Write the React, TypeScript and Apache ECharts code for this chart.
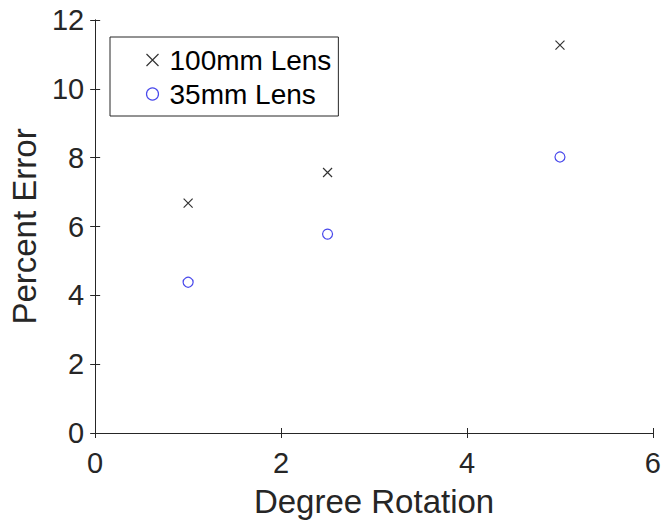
import React, { useEffect, useRef } from "react";
import * as echarts from "echarts";

const xTicks = [0, 2, 4, 6];
const yTicks = [0, 2, 4, 6, 8, 10, 12];
const rotation = [1, 2.5, 5];
const lens100 = [6.68, 7.57, 11.27];
const lens35 = [4.38, 5.78, 8.02];
const seriesNames = ["100mm Lens", "35mm Lens"];

const FONT = "Liberation Sans, Arial, Helvetica, sans-serif";
const INK = "#262626";
const CROSS = "path://M0,0L10,10M10,0L0,10";
const BLUE = "#1a1ae6";

export default function App() {
  const ref = useRef<HTMLDivElement>(null);
  useEffect(() => {
    if (!ref.current) return;
    const chart = echarts.init(ref.current, undefined, { renderer: "svg" });
    const axisCommon = {
      type: "value" as const,
      splitLine: { show: false },
      axisLine: { show: true, lineStyle: { color: INK, width: 1 } },
      axisTick: { show: true, inside: true, length: 5, lineStyle: { color: INK } },
    };
    chart.setOption({
      animation: false,
      backgroundColor: "#ffffff",
      textStyle: { fontFamily: FONT },
      grid: { left: 93, right: 9, top: 20, bottom: 92, containLabel: false },
      legend: {
        left: 110,
        top: 37,
        orient: "vertical",
        padding: [8, 7, 7, 34],
        borderColor: INK,
        borderWidth: 1,
        backgroundColor: "#ffffff",
        itemWidth: 24,
        itemHeight: 12,
        itemGap: 4,
        selectedMode: false,
        textStyle: { fontFamily: FONT, fontSize: 28, color: "#000", lineHeight: 30 },
        data: [
          {
            name: seriesNames[0],
            icon: CROSS,
            itemStyle: { color: "none", borderColor: "#000", borderWidth: 1.2 },
          },
          {
            name: seriesNames[1],
            icon: "circle",
            itemStyle: { color: "none", borderColor: BLUE, borderWidth: 1.2 },
          },
        ],
      },
      xAxis: [
        {
          ...axisCommon,
          position: "bottom",
          min: xTicks[0],
          max: xTicks[xTicks.length - 1],
          interval: 2,
          name: "Degree Rotation",
          nameLocation: "middle",
          nameGap: 52,
          nameTextStyle: { fontFamily: FONT, fontSize: 33, color: INK },
          axisLabel: { fontFamily: FONT, fontSize: 29, color: INK, margin: 15 },
        },
        {
          ...axisCommon,
          position: "top",
          min: xTicks[0],
          max: xTicks[xTicks.length - 1],
          interval: 2,
          axisLabel: { show: false },
        },
      ],
      yAxis: [
        {
          ...axisCommon,
          position: "left",
          min: yTicks[0],
          max: yTicks[yTicks.length - 1],
          interval: 2,
          name: "Percent Error",
          nameLocation: "middle",
          nameGap: 51,
          nameTextStyle: { fontFamily: FONT, fontSize: 33, color: INK },
          axisLabel: { fontFamily: FONT, fontSize: 29, color: INK, margin: 11 },
        },
        {
          ...axisCommon,
          position: "right",
          min: yTicks[0],
          max: yTicks[yTicks.length - 1],
          interval: 2,
          axisLabel: { show: false },
        },
      ],
      series: [
        {
          name: seriesNames[0],
          type: "scatter",
          symbol: CROSS,
          symbolSize: 9,
          itemStyle: { color: "none", borderColor: "#000", borderWidth: 1.2 },
          data: rotation.map((x, i) => [x, lens100[i]]),
        },
        {
          name: seriesNames[1],
          type: "scatter",
          symbol: "circle",
          symbolSize: 10,
          itemStyle: { color: "none", borderColor: BLUE, borderWidth: 1.2 },
          data: rotation.map((x, i) => [x, lens35[i]]),
        },
      ],
    });
    return () => chart.dispose();
  }, []);
  return <div ref={ref} style={{ width: 664, height: 525, position: "absolute", left: 0, top: 0 }} />;
}
